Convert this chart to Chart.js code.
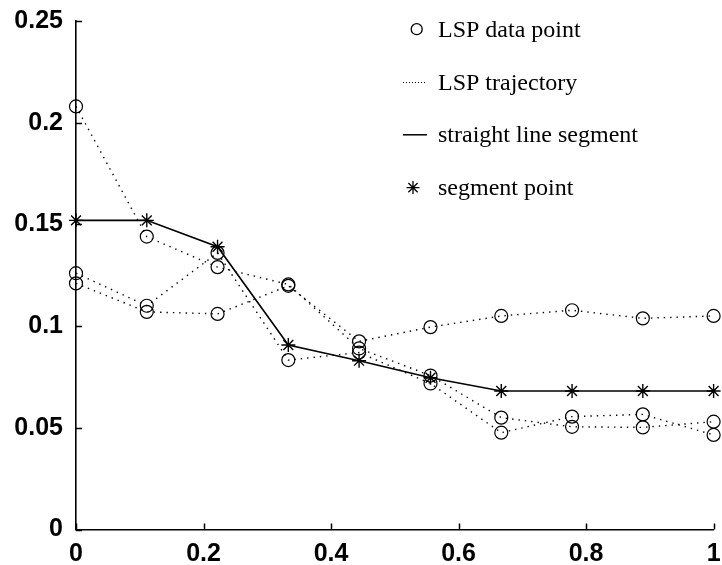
<!DOCTYPE html>
<html>
<head>
<meta charset="utf-8">
<script src="https://cdn.jsdelivr.net/npm/chart.js@4/dist/chart.umd.min.js"></script>
<style>
  html, body { margin: 0; padding: 0; background: #fff; }
  #wrap { width: 722px; height: 565px; }
</style>
</head>
<body>
<div id="wrap"><canvas id="c" width="722" height="565"></canvas></div>
<script>
// Frame positions (normalised time within the segment)
const frames = [0, 0.111, 0.222, 0.333, 0.444, 0.556, 0.667, 0.778, 0.889, 1];

// LSP trajectories (three line spectral frequencies)
const lspA = [0.208, 0.144, 0.129, 0.1205, 0.089, 0.0757, 0.055, 0.0505, 0.0502, 0.053];
const lspB = [0.126, 0.110, 0.136, 0.0833, 0.087, 0.0718, 0.0476, 0.0555, 0.0566, 0.0465];
const lspC = [0.121, 0.107, 0.106, 0.1198, 0.0925, 0.0995, 0.105, 0.1078, 0.1038, 0.105];

// Straight line segment approximation
const segment = [0.152, 0.152, 0.139, 0.0907, 0.083, 0.0746, 0.0681, 0.0681, 0.0681, 0.0681];

// Axis tick labels
const xTickLabels = ['0', '0.2', '0.4', '0.6', '0.8', '1'];
const yTickLabels = ['0', '0.05', '0.1', '0.15', '0.2', '0.25'];

// Legend entries
const legendLabels = ['LSP data point', 'LSP trajectory', 'straight line segment', 'segment point'];

const toPoints = arr => arr.map((v, i) => ({ x: frames[i], y: v }));

function lspDataset(arr) {
  return {
    data: toPoints(arr),
    borderColor: '#000',
    borderWidth: 1.4,
    borderDash: [1.4, 5],
    pointStyle: 'circle',
    pointRadius: 6.5,
    pointBorderWidth: 1.2,
    pointBorderColor: '#000',
    pointBackgroundColor: 'rgba(0,0,0,0)',
    tension: 0,
    clip: false
  };
}

// Inward tick marks on both axes
const inwardTicks = {
  id: 'inwardTicks',
  afterDraw(chart) {
    const ctx = chart.ctx;
    const xs = chart.scales.x, ys = chart.scales.y;
    const len = 6;
    ctx.save();
    ctx.strokeStyle = '#000';
    ctx.lineWidth = 1.5;
    ctx.beginPath();
    ys.ticks.forEach(t => {
      const py = Math.round(ys.getPixelForValue(t.value)) + 0.5;
      ctx.moveTo(xs.left, py);
      ctx.lineTo(xs.left + len, py);
    });
    xs.ticks.forEach(t => {
      const px = Math.round(xs.getPixelForValue(t.value)) + 0.5;
      ctx.moveTo(px, ys.bottom);
      ctx.lineTo(px, ys.bottom - len);
    });
    ctx.stroke();
    ctx.restore();
  }
};

// Legend in the upper right of the plot
const sideLegend = {
  id: 'sideLegend',
  afterDraw(chart) {
    const ctx = chart.ctx;
    const textX = 438;
    const firstBaseline = 36.7;
    const rowGap = 52.8;
    const symX0 = 403, symX1 = 427;
    ctx.save();
    ctx.fillStyle = '#000';
    ctx.strokeStyle = '#000';
    ctx.font = '24px "Liberation Serif", "Times New Roman", serif';
    ctx.textBaseline = 'alphabetic';
    ctx.textAlign = 'left';
    legendLabels.forEach((label, i) => {
      const base = firstBaseline + i * rowGap;
      const mid = base - 7.5;
      ctx.fillText(label, textX, base);
      ctx.lineWidth = 1.3;
      ctx.setLineDash([]);
      if (i === 0) {
        ctx.beginPath();
        ctx.arc(416.7, mid, 5.5, 0, Math.PI * 2);
        ctx.stroke();
      } else if (i === 1) {
        ctx.lineWidth = 1;
        ctx.setLineDash([1, 2]);
        ctx.beginPath();
        ctx.moveTo(symX0, mid + 0.5);
        ctx.lineTo(symX1, mid + 0.5);
        ctx.stroke();
        ctx.setLineDash([]);
      } else if (i === 2) {
        ctx.lineWidth = 1.5;
        ctx.beginPath();
        ctx.moveTo(symX0, mid);
        ctx.lineTo(symX1, mid);
        ctx.stroke();
      } else {
        const cx = 413, cy = mid, r = 6.5, d = r * Math.SQRT1_2;
        ctx.beginPath();
        ctx.moveTo(cx - r, cy); ctx.lineTo(cx + r, cy);
        ctx.moveTo(cx, cy - r); ctx.lineTo(cx, cy + r);
        ctx.moveTo(cx - d, cy - d); ctx.lineTo(cx + d, cy + d);
        ctx.moveTo(cx - d, cy + d); ctx.lineTo(cx + d, cy - d);
        ctx.stroke();
      }
    });
    ctx.restore();
  }
};

const tickFont = { family: '"Liberation Sans", Arial, sans-serif', size: 25, weight: 'bold' };

new Chart(document.getElementById('c'), {
  type: 'line',
  data: {
    datasets: [
      lspDataset(lspA),
      lspDataset(lspB),
      lspDataset(lspC),
      {
        data: toPoints(segment),
        borderColor: '#000',
        borderWidth: 1.6,
        pointStyle: 'star',
        pointRadius: 7,
        pointBorderWidth: 1.4,
        pointBorderColor: '#000',
        pointBackgroundColor: '#000',
        tension: 0,
        clip: false
      }
    ]
  },
  options: {
    responsive: false,
    devicePixelRatio: 1,
    animation: false,
    events: [],
    layout: { padding: { top: 21, right: 1, left: 0, bottom: 0 } },
    plugins: { legend: { display: false }, tooltip: { enabled: false } },
    scales: {
      x: {
        type: 'linear',
        min: 0, max: 1,
        border: { display: true, color: '#000', width: 1.6 },
        grid: { display: false, drawTicks: false },
        ticks: {
          stepSize: 0.2,
          color: '#000',
          font: tickFont,
          padding: 10,
          maxRotation: 0,
          autoSkip: false,
          callback: (v, i) => xTickLabels[i]
        },
        afterFit(scale) {
          scale.height = 35.5;
          scale.paddingLeft = 0;
          scale.paddingRight = 0;
        }
      },
      y: {
        type: 'linear',
        min: 0, max: 0.25,
        border: { display: true, color: '#000', width: 1.6 },
        grid: { display: false, drawTicks: false },
        ticks: {
          stepSize: 0.05,
          color: '#000',
          font: tickFont,
          padding: 13,
          autoSkip: false,
          callback: (v, i) => yTickLabels[i]
        },
        afterFit(scale) {
          scale.width = 76;
          scale.paddingTop = 0;
          scale.paddingBottom = 0;
        }
      }
    }
  },
  plugins: [inwardTicks, sideLegend]
});
</script>
</body>
</html>
